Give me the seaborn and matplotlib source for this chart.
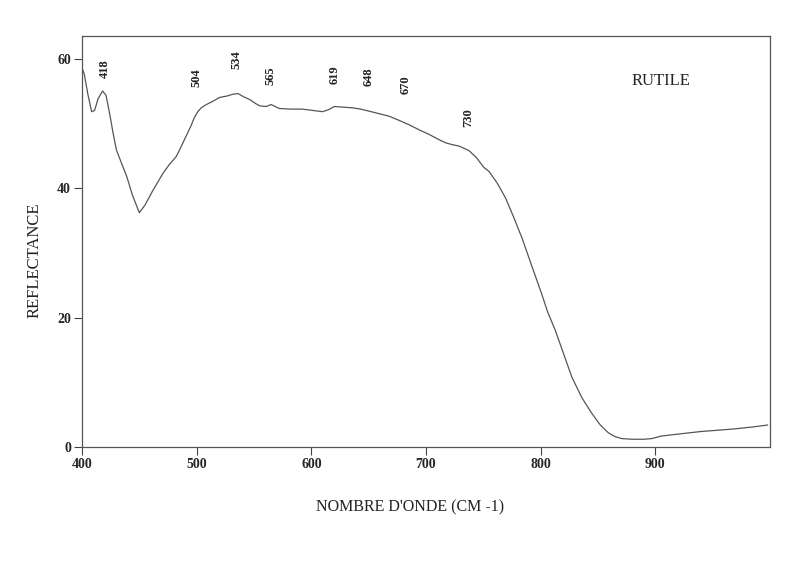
import numpy as np
import pandas as pd
import matplotlib
matplotlib.use("Agg")
import matplotlib.pyplot as plt
import seaborn as sns

# spectrum
wavenumber = [400, 402, 405, 408.4, 411, 414, 418, 421, 424, 427, 430, 435, 439, 444,
              450, 455, 462, 470.7, 476, 482.3, 487, 491, 495, 498, 501, 504, 508.4,
              514, 520, 526, 531.6, 536, 541, 546, 551, 555, 560.6, 565, 572, 582,
              592, 601, 609.6, 615, 620, 628, 635.7, 643, 650, 659, 667.8, 676, 685,
              694, 702.6, 710, 717, 723, 728.7, 737.4, 744, 750.4, 754.8, 762, 769.3,
              776, 783.7, 792, 801, 806, 812.8, 820, 827.2, 836, 844.6, 852, 859, 865,
              870.7, 880, 890, 896.8, 905.5, 920, 940, 955, 969, 985, 998]
reflectance = [58.6, 57.6, 54.6, 51.8, 52.0, 53.8, 55.0, 54.3, 51.6, 48.6, 45.9, 43.6,
               41.8, 38.9, 36.2, 37.4, 39.7, 42.3, 43.6, 44.9, 46.6, 48.1, 49.6, 50.9,
               51.8, 52.4, 52.9, 53.4, 54.0, 54.2, 54.5, 54.6, 54.1, 53.7, 53.1, 52.7,
               52.6, 52.9, 52.3, 52.2, 52.2, 52.0, 51.8, 52.1, 52.6, 52.5, 52.4, 52.2,
               51.9, 51.5, 51.1, 50.5, 49.8, 49.0, 48.3, 47.6, 47.0, 46.7, 46.5, 45.8,
               44.7, 43.2, 42.6, 40.8, 38.5, 35.7, 32.3, 28.1, 23.6, 20.9, 18.0, 14.4,
               10.8, 7.6, 5.2, 3.4, 2.2, 1.6, 1.3, 1.2, 1.2, 1.3, 1.7, 2.0, 2.4, 2.6,
               2.8, 3.1, 3.4]

peaks = [418, 504, 534, 565, 619, 648, 670, 730]
peak_label_y = [58.5, 57.1, 59.9, 57.4, 57.5, 57.2, 55.9, 50.9]

df = pd.DataFrame({"wavenumber": wavenumber, "reflectance": reflectance})

sns.set_style("ticks")
plt.rcParams["font.family"] = ["Liberation Serif", "DejaVu Serif"]

fig = plt.figure(figsize=(8, 5.67), dpi=100)
ax = fig.add_axes([0.1025, 0.2116, 0.86, 0.725])

sns.lineplot(data=df, x="wavenumber", y="reflectance", ax=ax,
             color="#555555", linewidth=0.9)

ax.set_xlim(400, 1000)
ax.set_ylim(0, 63.5)
ax.set_xticks([400, 500, 600, 700, 800, 900])
ax.set_yticks([0, 20, 40, 60])
ax.tick_params(direction="out", length=6, width=0.8, color="#444444",
               labelsize=10, pad=2)
for lab in ax.get_xticklabels() + ax.get_yticklabels():
    lab.set_fontweight("bold")
for sp in ax.spines.values():
    sp.set_visible(True)
    sp.set_color("#555555")
    sp.set_linewidth(0.9)

# peak labels (a little nudge for the ones the scan prints off-centre)
nudge = [2, -4, 1, -1, 1, 2, 12, 7]
for p, ly, dx in zip(peaks, peak_label_y, nudge):
    ax.text(p + dx, ly, str(p), rotation=90, ha="center", va="center",
            fontsize=9, fontweight="bold", color="#222222")

fig.text(0.826, 0.858, "RUTILE", ha="center", va="center",
         fontsize=12, color="#222222")

ax.set_xlabel("NOMBRE D'ONDE (CM -1)", fontsize=11.5, color="#222222")
ax.set_ylabel("REFLECTANCE", fontsize=12, color="#222222")
ax.xaxis.set_label_coords(0.477, -0.127)
ax.yaxis.set_label_coords(-0.057, 0.455)

fig.savefig("out.png", dpi=100, facecolor="white")
